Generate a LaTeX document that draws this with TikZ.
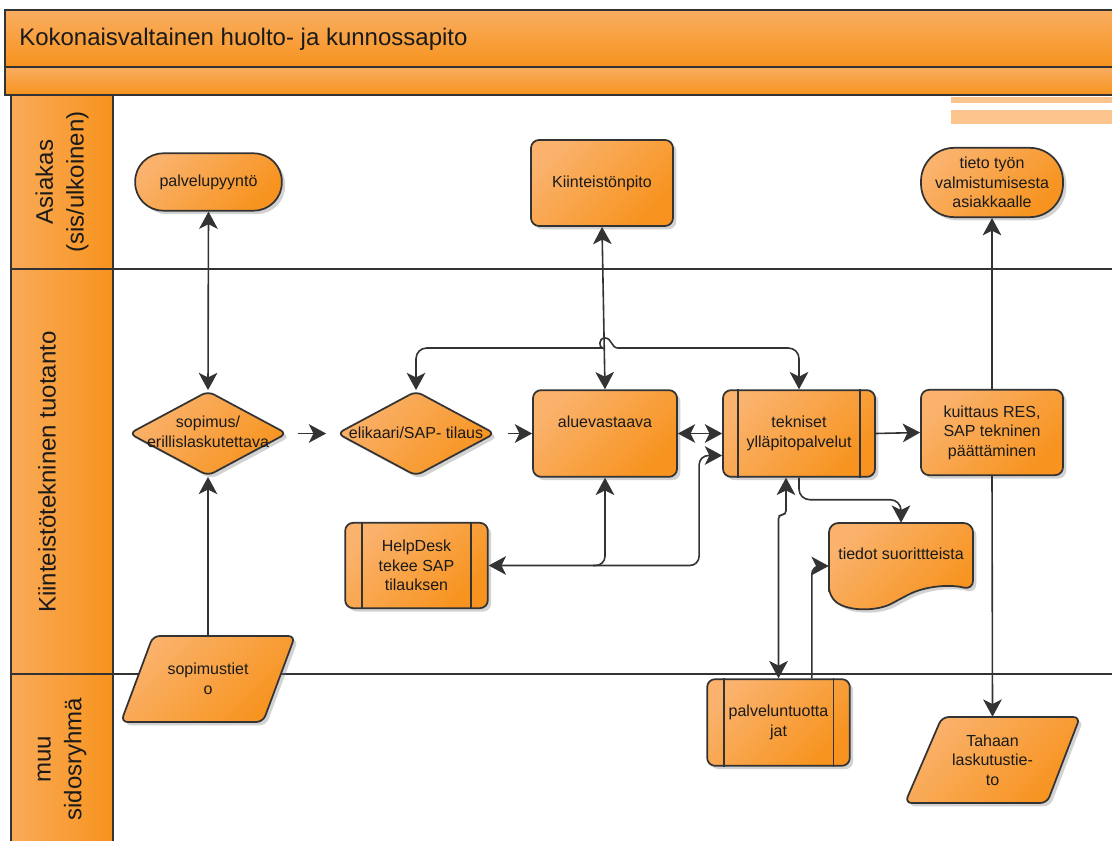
\documentclass[tikz,border=0pt]{standalone}
\usepackage{fontspec}
\setmainfont{Liberation Sans}
\usetikzlibrary{shapes.geometric,shadows,arrows.meta,calc}
\definecolor{orL}{HTML}{FAB26C}
\definecolor{orD}{HTML}{F7931E}
\definecolor{edgec}{HTML}{333333}
\definecolor{stripe}{HTML}{FCC58E}
\definecolor{txtc}{HTML}{1A1A1A}
\pgfdeclarelayer{lanes}
\pgfsetlayers{lanes,main}
\tikzset{
  fillor/.style={top color=orL, bottom color=orD, shading angle=45},
  shp/.style={draw=edgec, line width=1.3pt, fillor,
    drop shadow={shadow xshift=2.5pt, shadow yshift=-2.5pt, opacity=0.35}},
  txt/.style={font=\fontsize{12}{14.6}\selectfont, text=txtc, align=center, inner sep=1pt},
  rbox/.style={shp, txt, rectangle, rounded corners=6pt},
  stad/.style={shp, txt, rectangle},
  pbox/.style={rbox},
  dia/.style={shp, diamond, inner sep=0pt, minimum width=118.5pt, minimum height=63.75pt, rounded corners=5pt},
  plain/.style={txt, minimum width=106pt, minimum height=64.5pt},
  inl/.style={draw=edgec, line width=1.3pt},
  conn/.style={draw=edgec, line width=1.2pt},
  >={Stealth[length=13pt,width=14pt,inset=3.5pt]},
  lanetxt/.style={font=\fontsize{18}{23}\selectfont, text=txtc, align=center},
  laneline/.style={draw=edgec, line width=1.3pt},
  lanehead/.style={left color=orL!75!orD, right color=orD, draw=edgec, line width=1.3pt},
  bar/.style={top color=orL!85!orD, bottom color=orD, draw=edgec, line width=1.3pt}
}
\begin{document}
\begin{tikzpicture}[x=0.75pt,y=-0.75pt]
\useasboundingbox (0,0) rectangle (1112,841);

\begin{pgfonlayer}{lanes}
  \fill[white] (0,0) rectangle (1112,841);
  % title bars
  \path[bar] (5,10) rectangle (1118,67);
  \path[bar] (5,67) rectangle (1118,95);
  % stripes
  \fill[stripe] (951,97) rectangle (1112,103);
  \fill[stripe] (951,110) rectangle (1112,124);
  % lane headers
  \path[lanehead] (11,95) rectangle (113,269);
  \path[lanehead] (11,269) rectangle (113,674);
  \path[lanehead] (11,674) rectangle (113,850);
  % lane separators
  \draw[laneline] (11,269) -- (1118,269);
  \draw[laneline] (11,674) -- (1118,674);
\end{pgfonlayer}

\node[anchor=base west, inner sep=0pt, font=\fontsize{18}{20}\selectfont, text=txtc] (title) at (19,46) {Kokonaisvaltainen huolto- ja kunnossapito};

\node[lanetxt, rotate=90] (lane1) at (62,182) {Asiakas\\(sis/ulkoinen)};
\node[lanetxt, rotate=90] (lane2) at (47,472) {Kiinteistötekninen tuotanto};
\node[lanetxt, rotate=90] (lane3) at (62,759) {muu\\sidosryhmä};

% Asiakas lane
\node[stad, rounded corners=21pt, minimum width=110pt, minimum height=43pt] (palv) at (208.5,182) {palvelupyyntö};
\node[rbox, minimum width=106.5pt, minimum height=64.5pt] (kiin) at (602,183) {Kiinteistönpito};
\node[stad, rounded corners=25pt, minimum width=106.5pt, minimum height=52pt] (tieto) at (992,182.5) {tieto työn\\valmistumisesta\\asiakkaalle};

% production lane
\node[dia] (sop) at (208,433.5) {};
\node[txt] (sopl) at (208,432) {sopimus/\\erillislaskutettava};
\node[dia] (elik) at (416,433.5) {};
\node[txt] (elikl) at (416,433) {elikaari/SAP- tilaus};
\node[rbox, minimum width=108pt, minimum height=65pt] (alue) at (605,433.5) {};
\node[txt] (aluel) at (605,422) {aluevastaava};
\node[pbox, minimum width=114pt, minimum height=65pt] (tek) at (799,433.5) {tekniset\\ylläpitopalvelut};
\draw[inl] ([xshift=12pt]tek.north west) -- ([xshift=12pt]tek.south west);
\draw[inl] ([xshift=-12pt]tek.north east) -- ([xshift=-12pt]tek.south east);
\node[rbox, minimum width=106.5pt, minimum height=64pt] (kuit) at (992,432.5) {kuittaus RES,\\SAP tekninen\\päättäminen};
\node[pbox, minimum width=107pt, minimum height=64pt] (help) at (416.5,565.5) {HelpDesk\\tekee SAP\\tilauksen};
\draw[inl] ([xshift=13.5pt]help.north west) -- ([xshift=13.5pt]help.south west);
\draw[inl] ([xshift=-13.5pt]help.north east) -- ([xshift=-13.5pt]help.south east);

% document shape
\path[shp, rounded corners=7pt] (829,597) -- (829,523) -- (973,523) -- (973,590)
   .. controls (950,584) and (925,586) .. (900,599)
   .. controls (878,611) and (850,612) .. (829,597) -- cycle;
\node[txt, minimum width=108pt, minimum height=64.5pt] (tied) at (901,566) {};
\node[txt] (tiedl) at (901,554) {tiedot suorittteista};

% parallelograms
\path[shp, rounded corners=5pt] (121,722) -- (153,636) -- (295,636) -- (263,722) -- cycle;
\node[plain] (stieto) at (208,679) {sopimustiet\\o};
\path[shp, rounded corners=5pt] (905,803) -- (942,717) -- (1080,717) -- (1047,803) -- cycle;
\node[plain] (tah) at (992.5,760) {Tahaan\\laskutustie-\\to};

% other lane
\node[pbox, minimum width=107pt, minimum height=65pt] (palt) at (778.5,722.5) {palveluntuotta\\jat};
\draw[inl] ([xshift=13pt]palt.north west) -- ([xshift=13pt]palt.south west);
\draw[inl] ([xshift=-13pt]palt.north east) -- ([xshift=-13pt]palt.south east);

% connectors
\draw[conn, <->] (palv.south) -- (sop.north);
\draw[conn, ->] (stieto.north) -- (sop.south);
\draw[conn, ->, shorten <=7.5pt, shorten >=7.5pt] (sop.east) -- (elik.west);
\draw[conn, ->, shorten <=9pt] (elik.east) -- (alue.west);
\draw[conn, <->] (kiin.south) -- (alue.north);
\coordinate (hopL) at (592,348);
\coordinate (hopR) at (618,348);
\draw[conn, <->] (elik.north) [rounded corners=8pt] |- (hopL) [sharp corners]
   .. controls (599,348) and (598,338) .. (605,338)
   .. controls (612,338) and (611,348) .. (hopR) [rounded corners=8pt] -| (tek.north);
\draw[conn, <->] (alue.east) -- (tek.west);
\draw[conn, ->] (tek.east) -- (kuit.west);
\coordinate (J) at (alue.south |- help.east);
\draw[conn, <->, rounded corners=7pt] (help.east) -| ($(tek.west)+(-23,22)$) -- ($(tek.west)+(0,22)$);
\draw[conn, ->, rounded corners=7pt] ($(J)+(-12,0)$) -| (alue.south);
\draw[conn, <->, rounded corners=3pt] ([xshift=-9.75pt]tek.south) -- ++(0,37) -| (palt.north);
\draw[conn, ->, rounded corners=8pt] (tek.south) -- ++(0,22) -| (tied.north);
\draw[conn, ->, rounded corners=6pt] ([xshift=25pt]palt.north) |- (tied.west);
\draw[conn, ->] (kuit.north) -- (tieto.south);
\draw[conn, ->] (kuit.south) -- (tah.north);
\end{tikzpicture}
\end{document}
